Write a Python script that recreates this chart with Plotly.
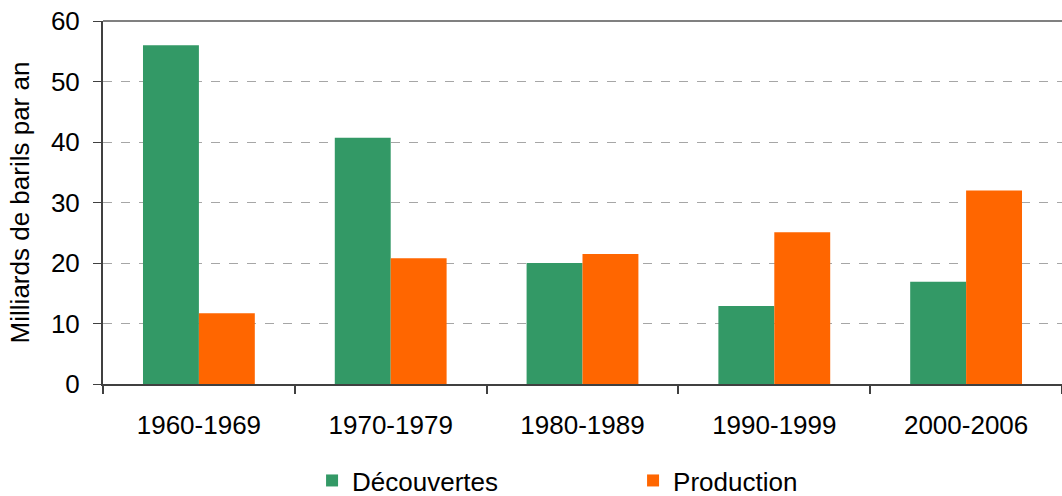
import plotly.graph_objects as go

categories = ["1960-1969", "1970-1979", "1980-1989", "1990-1999", "2000-2006"]
decouvertes = [56.0, 40.7, 20.0, 12.9, 16.9]
production = [11.7, 20.8, 21.5, 25.1, 32.0]
series_names = ["Découvertes", "Production"]
y_ticks = [0, 10, 20, 30, 40, 50, 60]

GREEN = "#339966"
ORANGE = "#FF6600"
FONT = "Liberation Sans, Arial, Helvetica, sans-serif"
FS = 26

fig = go.Figure()
fig.add_trace(go.Bar(x=categories, y=decouvertes, name=series_names[0],
                     marker=dict(color=GREEN, line=dict(width=0))))
fig.add_trace(go.Bar(x=categories, y=production, name=series_names[1],
                     marker=dict(color=ORANGE, line=dict(width=0))))

fig.update_layout(
    width=1062, height=496,
    margin=dict(l=103, r=0, t=21, b=112, autoexpand=False),
    paper_bgcolor="white", plot_bgcolor="white",
    font=dict(family=FONT, size=FS, color="#000000"),
    barmode="group", bargap=0.417, bargroupgap=0,
    showlegend=True,
    legend=dict(orientation="h", x=0.218, xanchor="left", y=-0.266, yanchor="middle",
                font=dict(size=FS), entrywidth=276, entrywidthmode="pixels",
                itemwidth=30, bgcolor="rgba(0,0,0,0)", traceorder="normal",
                tracegroupgap=0, borderwidth=0),
)
fig.update_xaxes(
    type="category", showline=True, linecolor="#404040", linewidth=2,
    ticks="outside", tickson="boundaries", ticklen=8, tickcolor="#404040", tickwidth=2,
    ticklabelstandoff=17, showgrid=False, zeroline=False, automargin=False,
    tickfont=dict(size=FS),
)
fig.update_yaxes(
    range=[0, 60], tickvals=y_ticks, showline=True, linecolor="#404040", linewidth=2,
    ticks="outside", ticklen=8, tickcolor="#404040", tickwidth=1,
    ticklabelstandoff=8, ticklabeloverflow="allow", automargin=False,
    showgrid=True, gridcolor="#A6A6A6", griddash="dash", gridwidth=1,
    zeroline=False, tickfont=dict(size=FS),
    title=dict(text="Milliards de barils par an", font=dict(size=FS), standoff=14),
)
# top border of the plot area
fig.add_shape(type="line", xref="paper", yref="paper", x0=0, x1=1, y0=1, y1=1,
              line=dict(color="#808080", width=2), layer="above")

# remove the default page margin so the figure fills the window exactly
fig.write_html("out.html", config={"displayModeBar": False},
               post_script="document.body.style.margin='0';document.body.style.overflow='hidden';")
